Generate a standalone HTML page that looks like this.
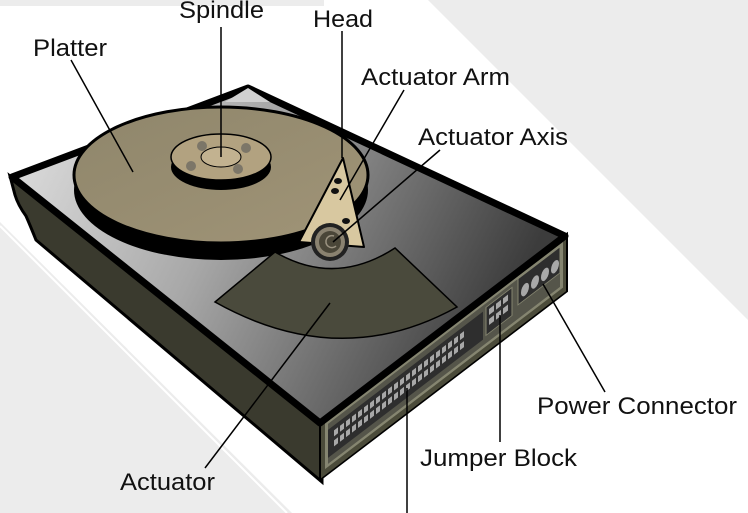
<!DOCTYPE html>
<html><head><meta charset="utf-8"><style>
html,body{margin:0;padding:0;background:#fff;width:748px;height:513px;overflow:hidden}
svg{display:block}
text{font-family:"Liberation Sans",sans-serif;font-size:24px;fill:#111}
</style></head><body>
<svg width="748" height="513" viewBox="0 0 748 513" xmlns="http://www.w3.org/2000/svg">
<defs>
<linearGradient id="top" x1="0" y1="0" x2="1" y2="0.3">
<stop offset="0" stop-color="#e4e4e4"/><stop offset="0.45" stop-color="#a8a8a8"/><stop offset="1" stop-color="#3c3c3c"/>
</linearGradient>
<linearGradient id="plat" x1="0" y1="0" x2="1" y2="1">
<stop offset="0" stop-color="#8f866b"/><stop offset="1" stop-color="#a09477"/>
</linearGradient>
</defs>
<polygon points="0,0 324,0 324,6 0,6" fill="#ececec"/>
<polygon points="428,0 748,0 748,320" fill="#ececec"/>
<polygon points="0,222 292,513 0,513" fill="#ececec"/>
<line x1="0" y1="226" x2="287" y2="513" stroke="#fff" stroke-width="2"/>

<path d="M10,176 L322,420 L322,482 L36,240 Q30,225 26,216 Q18,205 15,195 Z" fill="#3a3a2e" stroke="#000" stroke-width="3"/>
<g transform="matrix(1 -0.763 0 1 320 422)">
<rect x="0" y="0" width="247" height="58" fill="#4b4b3a" stroke="#000" stroke-width="2"/>
<rect x="5" y="5" width="238" height="46" fill="#858570"/>
<rect x="8" y="8" width="232" height="40" fill="#55554a"/>
<rect x="8" y="14" width="155" height="28" fill="#2e2e2e"/>
<g fill="#a8a8a8">
<rect x="14" y="19" width="4" height="6"/><rect x="20" y="19" width="4" height="6"/><rect x="26" y="19" width="4" height="6"/><rect x="32" y="19" width="4" height="6"/><rect x="38" y="19" width="4" height="6"/><rect x="44" y="19" width="4" height="6"/><rect x="50" y="19" width="4" height="6"/><rect x="56" y="19" width="4" height="6"/><rect x="62" y="19" width="4" height="6"/><rect x="68" y="19" width="4" height="6"/><rect x="74" y="19" width="4" height="6"/><rect x="80" y="19" width="4" height="6"/><rect x="86" y="19" width="4" height="6"/><rect x="92" y="19" width="4" height="6"/><rect x="98" y="19" width="4" height="6"/><rect x="104" y="19" width="4" height="6"/><rect x="110" y="19" width="4" height="6"/><rect x="116" y="19" width="4" height="6"/><rect x="122" y="19" width="4" height="6"/><rect x="128" y="19" width="4" height="6"/><rect x="134" y="19" width="4" height="6"/><rect x="140" y="19" width="4" height="6"/>
<rect x="14" y="29" width="4" height="6"/><rect x="20" y="29" width="4" height="6"/><rect x="26" y="29" width="4" height="6"/><rect x="32" y="29" width="4" height="6"/><rect x="38" y="29" width="4" height="6"/><rect x="44" y="29" width="4" height="6"/><rect x="50" y="29" width="4" height="6"/><rect x="56" y="29" width="4" height="6"/><rect x="62" y="29" width="4" height="6"/><rect x="68" y="29" width="4" height="6"/><rect x="74" y="29" width="4" height="6"/><rect x="80" y="29" width="4" height="6"/><rect x="86" y="29" width="4" height="6"/><rect x="92" y="29" width="4" height="6"/><rect x="98" y="29" width="4" height="6"/><rect x="104" y="29" width="4" height="6"/><rect x="110" y="29" width="4" height="6"/><rect x="116" y="29" width="4" height="6"/><rect x="122" y="29" width="4" height="6"/><rect x="128" y="29" width="4" height="6"/><rect x="134" y="29" width="4" height="6"/><rect x="140" y="29" width="4" height="6"/>
</g>
<rect x="166" y="12" width="26" height="28" fill="#2e2e2e" stroke="#858570" stroke-width="1"/>
<g fill="#a8a8a8">
<rect x="169" y="16" width="5" height="6"/><rect x="176" y="16" width="5" height="6"/><rect x="183" y="16" width="5" height="6"/>
<rect x="169" y="26" width="5" height="6"/><rect x="176" y="26" width="5" height="6"/><rect x="183" y="26" width="5" height="6"/>
</g>
<rect x="198" y="8" width="42" height="26" fill="#2e2e2e" stroke="#858570" stroke-width="1"/>
<g fill="#a8a8a8">
<ellipse cx="205" cy="24" rx="4" ry="6"/><ellipse cx="215" cy="24" rx="4" ry="6"/><ellipse cx="225" cy="24" rx="4" ry="6"/><ellipse cx="235" cy="24" rx="4" ry="6"/>
</g>
</g>
<polygon points="12,177 248,88 565,236 320,423" fill="url(#top)" stroke="#000" stroke-width="7" stroke-linejoin="round"/>
<polygon points="248,88 270,102 225,102" fill="#d0d0d0"/>

<ellipse cx="221" cy="190" rx="147" ry="70" fill="#000"/>
<ellipse cx="221" cy="175" rx="147" ry="68" fill="url(#plat)" stroke="#000" stroke-width="3"/>
<ellipse cx="221" cy="167" rx="50" ry="23" fill="#000"/>
<ellipse cx="221" cy="157" rx="50" ry="23" fill="#b2a280" stroke="#000" stroke-width="1.5"/>
<g fill="#7c7668"><circle cx="202" cy="146" r="5"/><circle cx="246" cy="148" r="5"/><circle cx="191" cy="166" r="5"/><circle cx="238" cy="169" r="5"/></g>
<ellipse cx="221" cy="157" rx="20" ry="10" fill="#c2b290" stroke="#000" stroke-width="1"/>

<path d="M215,302 L275,252 Q335,287 395,248 L457,307 Q340,372 215,302 Z" fill="#4a4a3c" stroke="#000" stroke-width="1.5"/>

<polygon points="343,158 299,242 364,247" fill="#d8c8a0" stroke="#000" stroke-width="2" stroke-linejoin="round"/>
<g fill="#111"><ellipse cx="338" cy="181" rx="4" ry="3"/><ellipse cx="335" cy="191" rx="4" ry="3"/><ellipse cx="346" cy="221" rx="4" ry="3"/></g>
<circle cx="330" cy="242" r="19" fill="#222"/>
<circle cx="330" cy="242" r="15" fill="#8a8270"/>
<circle cx="330" cy="242" r="11" fill="#4a4638"/>
<path d="M334,236 A6,6 0 1 0 336,246" fill="none" stroke="#9a9280" stroke-width="1.5"/>

<g stroke="#000" stroke-width="1.5" fill="none">
<line x1="71" y1="60" x2="133" y2="172"/>
<line x1="221" y1="27" x2="221" y2="157"/>
<line x1="342" y1="31" x2="342" y2="158"/>
<line x1="404" y1="90" x2="340" y2="200"/>
<line x1="440" y1="150" x2="333" y2="242"/>
<line x1="330" y1="303" x2="205" y2="468"/>
<line x1="605" y1="392" x2="543" y2="284"/>
<line x1="500" y1="442" x2="500" y2="315"/>
<line x1="407" y1="513" x2="407" y2="388"/>
</g>

<text x="179" y="18" textLength="85" lengthAdjust="spacingAndGlyphs">Spindle</text>
<text x="313" y="27" textLength="60" lengthAdjust="spacingAndGlyphs">Head</text>
<text x="33" y="56" textLength="74" lengthAdjust="spacingAndGlyphs">Platter</text>
<text x="361" y="85" textLength="149" lengthAdjust="spacingAndGlyphs">Actuator Arm</text>
<text x="418" y="145" textLength="150" lengthAdjust="spacingAndGlyphs">Actuator Axis</text>
<text x="537" y="414" textLength="200" lengthAdjust="spacingAndGlyphs">Power Connector</text>
<text x="420" y="466" textLength="157" lengthAdjust="spacingAndGlyphs">Jumper Block</text>
<text x="120" y="490" textLength="95" lengthAdjust="spacingAndGlyphs">Actuator</text>
</svg>
</body></html>
